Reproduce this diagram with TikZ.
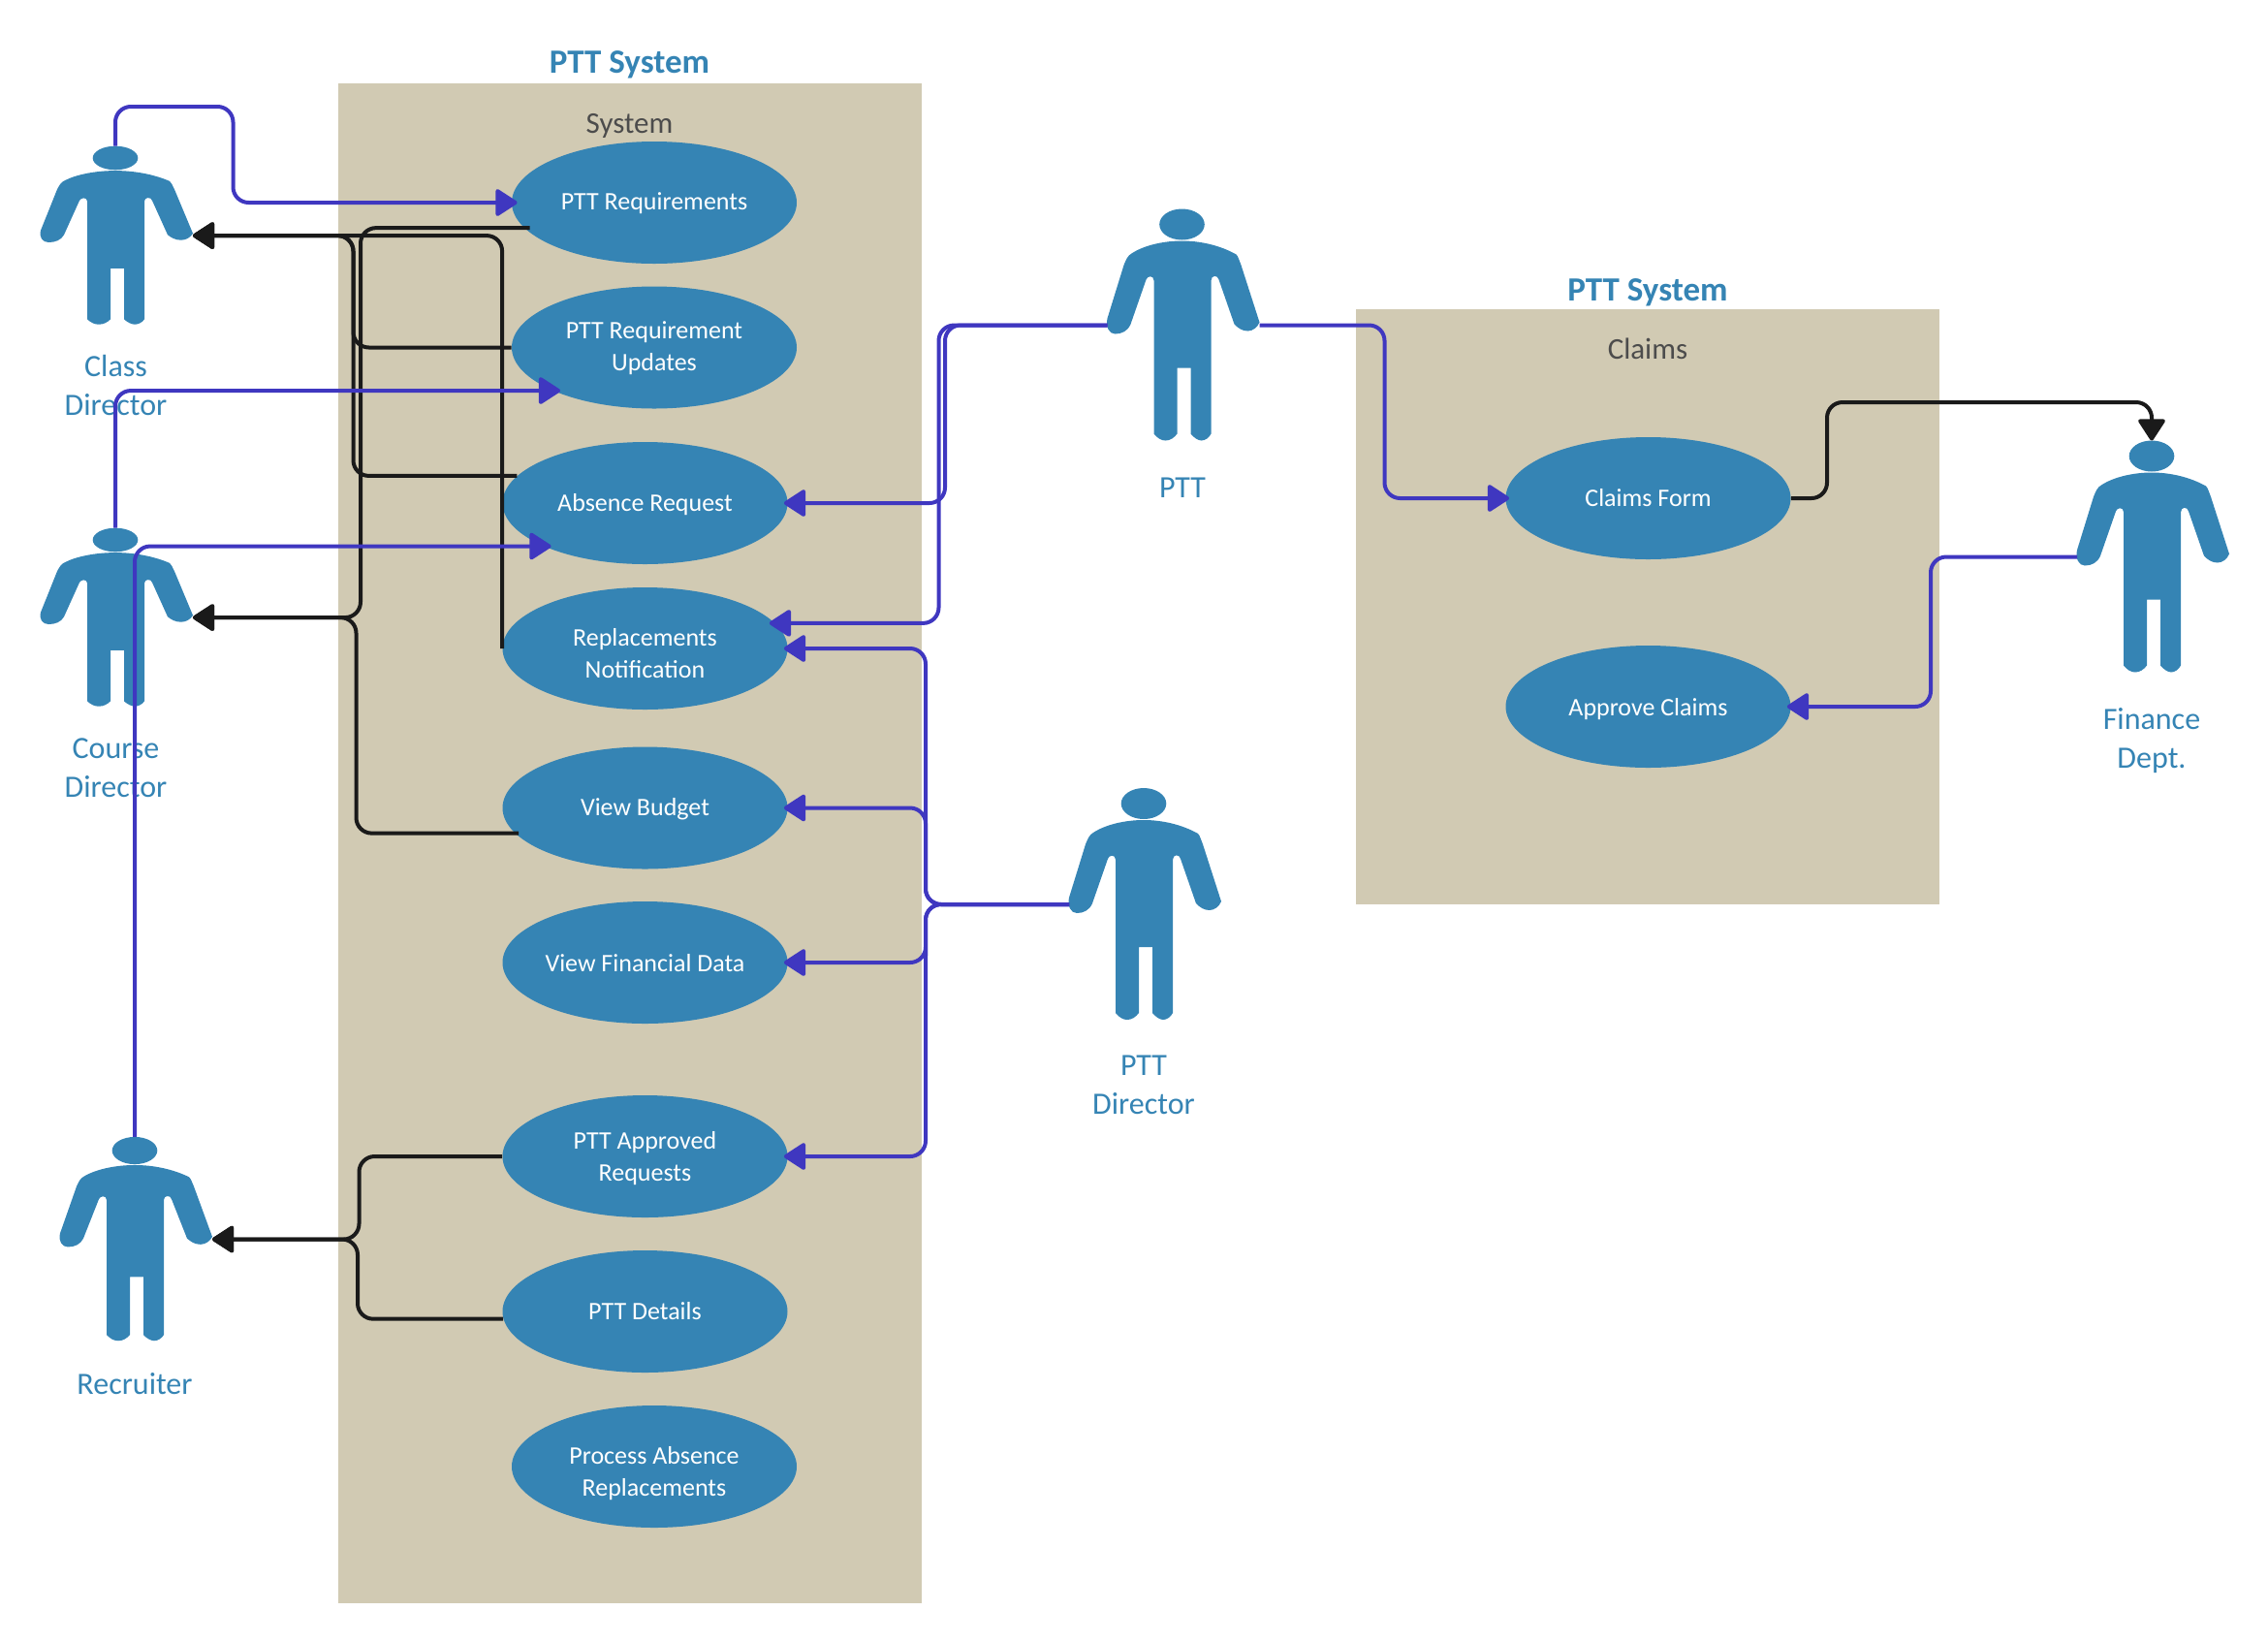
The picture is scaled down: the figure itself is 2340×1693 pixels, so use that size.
\documentclass[tikz,border=0pt]{standalone}
\usepackage{fontspec}
\setmainfont{Carlito}
\usetikzlibrary{arrows.meta,shapes.geometric}

\definecolor{actorblue}{HTML}{3584B4}
\definecolor{panelbeige}{HTML}{D1CAB3}
\definecolor{flowblue}{HTML}{3F37C0}
\definecolor{flowblack}{HTML}{1A1A1A}

\tikzset{
  actor/.pic = {
    \fill[actorblue] (0,0) ellipse [x radius=23.3, y radius=16];
    \fill[actorblue] (0,17) .. controls (-20,17) and (-40,22) .. (-52,30)
      .. controls (-56,32) and (-58,37) .. (-60,42) -- (-77,97)
      .. controls (-79,106) and (-75,113) .. (-69,113)
      .. controls (-62,113) and (-56,110) .. (-53,103) -- (-37,57)
      .. controls (-36,53) and (-29,52) .. (-29,58) -- (-29,216)
      .. controls (-25,221) and (-21,223) .. (-17,223)
      .. controls (-12,223) and (-8,220) .. (-5,216) -- (-5,148) -- (9,148) -- (9,216)
      .. controls (12,220) and (17,223) .. (20,223)
      .. controls (24,223) and (28,220) .. (30,216) -- (30,58)
      .. controls (30,52) and (37,52) .. (38,57) -- (54,103)
      .. controls (58,107) and (62,110) .. (68,110)
      .. controls (73,110) and (78,106) .. (80,101) -- (61,42)
      .. controls (59,37) and (58,33) .. (56,31)
      .. controls (40,22) and (20,17) .. (0,17) -- cycle;
    \coordinate (-top) at (0,-16);
    \coordinate (-lhand) at (-77,104);
    \coordinate (-rhand) at (80,104);
  }
}

\begin{document}
\begin{tikzpicture}
[
                     x =  0.5pt,
                     y = -0.5pt,
               panel/.style = { fill=panelbeige, draw=none, rectangle, inner sep=0pt },
             usecase/.style = { fill=actorblue, draw=none, ellipse, minimum width=147pt, minimum height=63pt,
                                inner sep=0pt, align=center, text=white, font=\fontsize{13}{16.5}\selectfont },
               title/.style = { text=actorblue, font=\fontsize{17.5}{20}\selectfont\bfseries },
            paneltag/.style = { text=black!70, font=\fontsize{15.5}{18}\selectfont },
            actorlab/.style = { text=actorblue, align=center, font=\fontsize{16}{20}\selectfont },
            blueflow/.style = { draw=flowblue, line width=2pt, rounded corners=8pt, line join=round, shorten >=-2pt,
                                -{Triangle[length=12pt,width=15pt,round]} },
           blackflow/.style = { draw=flowblack, line width=2pt, rounded corners=8pt, line join=round,
                                -{Triangle[length=12pt,width=15pt,round]} }
]
	\useasboundingbox (0,0) rectangle (2340,1693);

	\node (syspanel) at (650,870)    [panel, minimum width=300.75pt, minimum height=783.7pt] {};
	\node (clmpanel) at (1700,626)   [panel, minimum width=301pt, minimum height=307pt] {};

	\node (systitle) at (649.5,67)   [title] {PTT System};
	\node (clmtitle) at (1700,301.5) [title] {PTT System};
	\node (systag)   at (649.5,130)  [paneltag] {System};
	\node (clmtag)   at (1700,360)   [paneltag] {Claims};

	\node (req)  at (675,209)    [usecase, text height=10pt] {PTT Requirements};
	\node (upd)  at (675,358.5)  [usecase, text height=26.5pt] {PTT Requirement\\Updates};
	\node (abs)  at (665.5,519)  [usecase, text height=10.5pt] {Absence Request};
	\node (rep)  at (665.5,669)  [usecase, text height=30.2pt] {Replacements\\Notification};
	\node (bud)  at (665.5,833.5) [usecase, text height=10.6pt] {View Budget};
	\node (fin)  at (665.5,993)  [usecase, text height=9.8pt] {View Financial Data};
	\node (app)  at (665.5,1193) [usecase, text height=28pt] {PTT Approved\\Requests};
	\node (det)  at (665.5,1353) [usecase, text height=9pt] {PTT Details};
	\node (pro)  at (675,1513)   [usecase, text height=32.5pt] {Process Absence\\Replacements};
	\node (clm)  at (1700.5,514) [usecase] {Claims Form};
	\node (apc)  at (1700.5,729) [usecase, text height=11.2pt] {Approve Claims};

	\pic[yscale=.77] (cd) at (119,163)  {actor};
	\pic[yscale=.77] (co) at (119,557)  {actor};
	\pic[yscale=.88] (re) at (139,1187) {actor};
	\pic (pt) at (1219.5,231.5) {actor};
	\pic (pd) at (1180,829)   {actor};
	\pic (fd) at (2220,470.5) {actor};

	\node (cdl) at (119.5,397)  [actorlab] {Class\\Director};
	\node (col) at (119.5,792)  [actorlab] {Course\\Director};
	\node (rel) at (139,1428)   [actorlab] {Recruiter};
	\node (ptl) at (1220,503)   [actorlab] {PTT};
	\node (pdl) at (1180,1119)  [actorlab] {PTT\\Director};
	\node (fdl) at (2220,764)   [actorlab] {Finance\\Dept.};

	% black flows, use case back to actor
	\draw[blackflow, shorten <=-3pt] (req.191.2) -| (372,400) |- (co-rhand);
	\draw[blackflow, shorten <=-2pt] (bud.191) -| (367.5,700) |- (co-rhand);
	\draw[blackflow] (upd.west) -| (364.5,300) |- (cd-rhand);
	\draw[blackflow] (abs.168.2) -| (364.5,300) |- (cd-rhand);
	\draw[blackflow] (rep.west) |- (cd-rhand);
	\draw[blackflow] (app.west) -| (370.5,1240) |- (re-rhand);
	\draw[blackflow] (det.183) -| (369,1320) |- (re-rhand);
	\draw[blackflow] (clm.east) -| (1885,470) |- (2220,415) -- (fd-top);

	% blue flows, actor to use case
	\draw[blueflow, shorten >=-3pt] (cd-top) |- (240.5,110) |- (req.west);
	\draw[blueflow, shorten >=-4pt] (co-top) |- (upd.203);
	\draw[blueflow, shorten >=-4pt] (re-top) |- (abs.203);
	\draw[blueflow] (pt-lhand) -| (975,430) |- (abs.east);
	\draw[blueflow, shorten >=-3pt] (pt-lhand) -| (968.5,500) |- (rep.11.5);
	\draw[blueflow] (pt-rhand) -| (1428.5,430) |- (clm.west);
	\draw[blueflow] (pd-lhand) -| (955,800) |- (rep.east);
	\draw[blueflow] (pd-lhand) -| (955,890) |- (bud.east);
	\draw[blueflow] (pd-lhand) -| (955,970) |- (fin.east);
	\draw[blueflow] (pd-lhand) -| (955,1100) |- (app.east);
	\draw[blueflow] (fd-lhand) -| (1992,650) |- (apc.east);
\end{tikzpicture}
\end{document}
